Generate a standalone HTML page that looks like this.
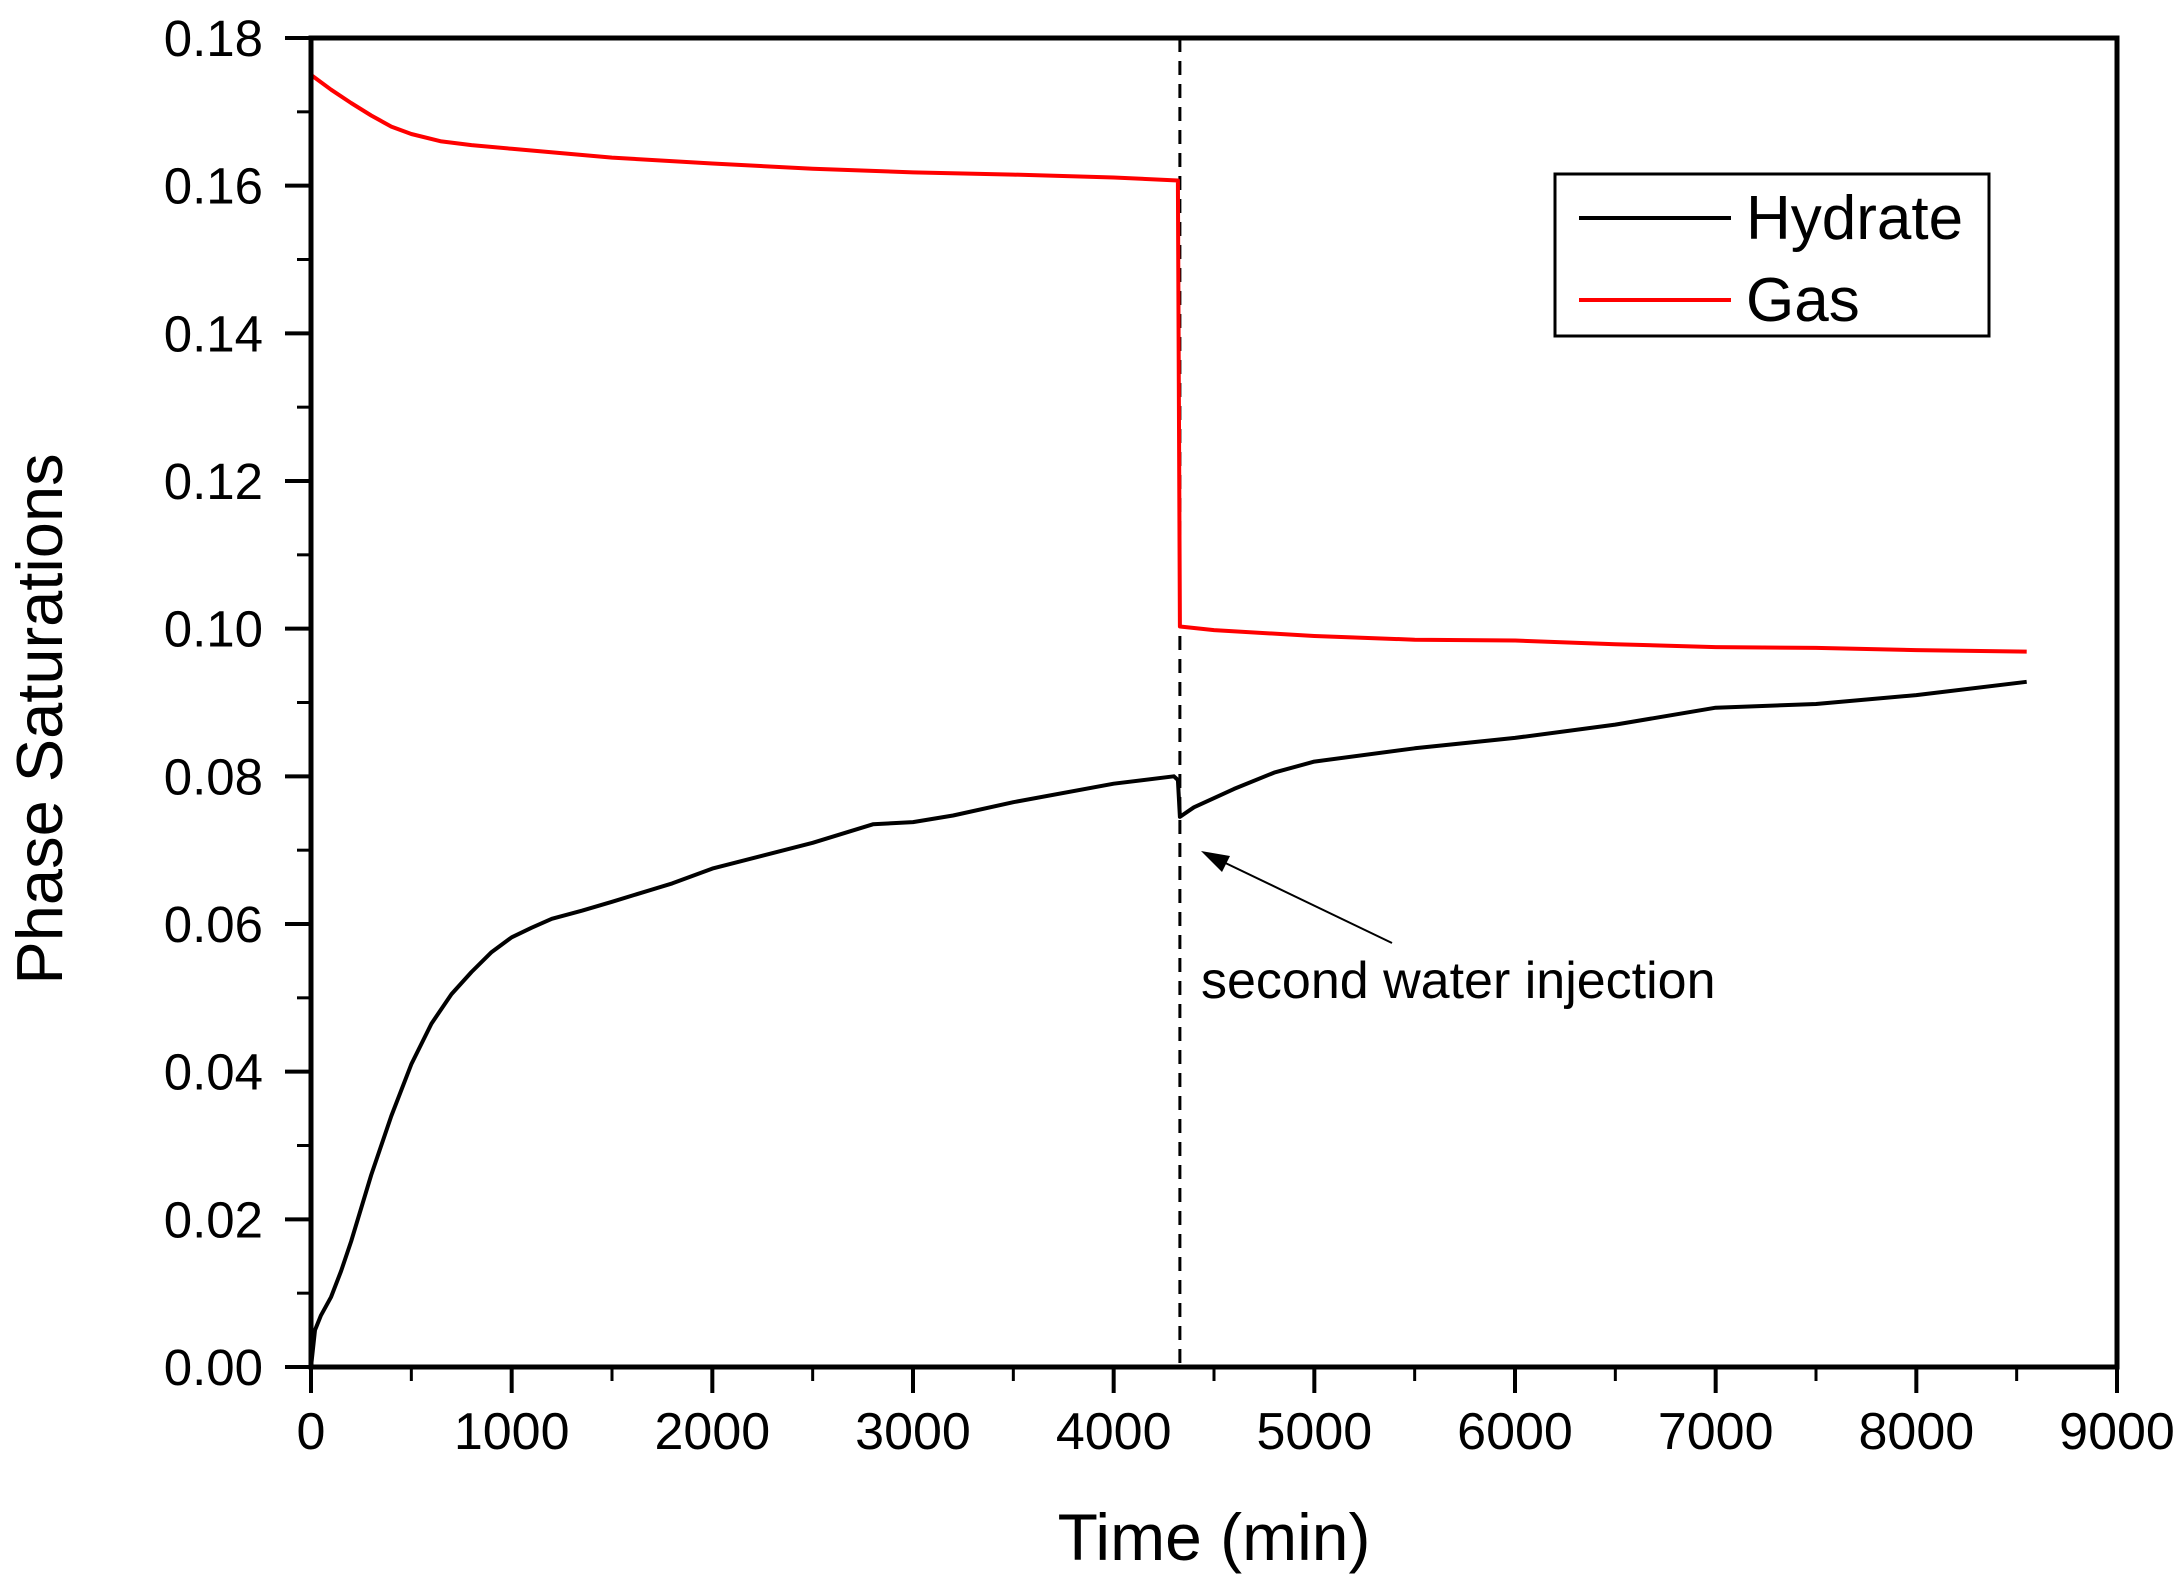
<!DOCTYPE html>
<html><head><meta charset="utf-8"><style>
html,body{margin:0;padding:0;background:#fff;}
svg{display:block;font-family:"Liberation Sans",Arial,sans-serif;}
</style></head><body>
<svg id="chart" width="2183" height="1584" viewBox="0 0 2183 1584" xmlns="http://www.w3.org/2000/svg">
<rect width="2183" height="1584" fill="#fff"/>
<g id="ticks"></g>
<g id="series"></g>
<rect x="311" y="38" width="1806" height="1329" fill="none" stroke="#000" stroke-width="5"/>
<text x="1214" y="1560" font-size="66" text-anchor="middle">Time (min)</text>
<text transform="translate(62,719) rotate(-90)" font-size="65" text-anchor="middle">Phase Saturations</text>
<g>
<rect x="1555" y="174" width="434" height="162" fill="#fff" stroke="#000" stroke-width="3"/>
<line x1="1579" y1="218" x2="1731" y2="218" stroke="#000" stroke-width="4"/>
<text x="1746" y="239" font-size="62">Hydrate</text>
<line x1="1579" y1="300" x2="1731" y2="300" stroke="#f00" stroke-width="4"/>
<text x="1746" y="321" font-size="62">Gas</text>
</g>
<g>
<line x1="1392" y1="943" x2="1215" y2="858" stroke="#000" stroke-width="2"/>
<polygon points="1201,851 1230,856 1222,872" fill="#000"/>
<text x="1201" y="998" font-size="52">second water injection</text>
</g>
</svg>
<script>
const xTicks=[0,1000,2000,3000,4000,5000,6000,7000,8000,9000];
const yTicks=[0,0.02,0.04,0.06,0.08,0.10,0.12,0.14,0.16,0.18];
const yLabels=["0.00","0.02","0.04","0.06","0.08","0.10","0.12","0.14","0.16","0.18"];
const injectionTime=4330;
const gasT=[0,100,200,300,400,500,650,800,1000,1500,2000,2500,3000,3500,4000,4320,4330,4500,5000,5500,6000,6500,7000,7500,8000,8550];
const gasV=[0.175,0.173,0.1712,0.1695,0.168,0.167,0.166,0.1655,0.165,0.1638,0.163,0.1623,0.1618,0.1615,0.1611,0.1607,0.1003,0.0998,0.099,0.0985,0.0984,0.0979,0.0975,0.0974,0.0971,0.0969];
const hydT=[0,20,50,100,150,200,300,400,500,600,700,800,900,1000,1100,1200,1350,1500,1800,2000,2500,2800,3000,3200,3500,4000,4300,4320,4330,4400,4600,4800,5000,5500,6000,6500,7000,7500,8000,8550];
const hydV=[0.0,0.005,0.007,0.0095,0.013,0.017,0.026,0.034,0.041,0.0465,0.0505,0.0535,0.0562,0.0582,0.0595,0.0607,0.0618,0.063,0.0655,0.0675,0.071,0.0735,0.0738,0.0747,0.0765,0.079,0.080,0.0795,0.0745,0.0758,0.0783,0.0805,0.082,0.0838,0.0852,0.087,0.0893,0.0898,0.091,0.0928];
const L=311,R=2117,T=38,B=1367;
const X=v=>L+(v/9000)*(R-L);
const Y=v=>B-(v/0.18)*(B-T);
const NS="http://www.w3.org/2000/svg";
const tg=document.getElementById('ticks');
function mk(tag,attrs,parent){const e=document.createElementNS(NS,tag);for(const k in attrs)e.setAttribute(k,attrs[k]);parent.appendChild(e);return e;}
xTicks.forEach((t,i)=>{
  const ln=mk('line',{x1:X(t),x2:X(t),y1:B,y2:B+26,stroke:'#000','stroke-width':4},tg);
  
  
  if(i<xTicks.length-1){const m=mk('line',{x1:X(t+500),x2:X(t+500),y1:B,y2:B+14,stroke:'#000','stroke-width':3},tg);
  
  }
  const tx=mk('text',{x:X(t),y:B+82,'font-size':52,'text-anchor':'middle'},tg);
  
  
  tx.textContent=String(t);
});
yTicks.forEach((t,i)=>{
  const ln=mk('line',{x1:L-26,x2:L,y1:Y(t),y2:Y(t),stroke:'#000','stroke-width':4},tg);
  
  
  if(i<yTicks.length-1){const m=mk('line',{x1:L-14,x2:L,y1:Y(t+0.01),y2:Y(t+0.01),stroke:'#000','stroke-width':3},tg);
  
  }
  const tx=mk('text',{x:L-48,y:Y(t)+18,'font-size':51,'text-anchor':'end'},tg);
  
  
  tx.textContent=yLabels[i];
});
const sg=document.getElementById('series');
const dl=mk('line',{x1:X(injectionTime),x2:X(injectionTime),y1:T,y2:B,stroke:'#000','stroke-width':3,'stroke-dasharray':'14,9'},sg);


function path(ts,vs){return ts.map((t,i)=>(i?'L':'M')+X(t).toFixed(1)+','+Y(vs[i]).toFixed(1)).join(' ');}
const gp=mk('path',{d:path(gasT,gasV),fill:'none',stroke:'#f00','stroke-width':4,'stroke-linejoin':'round'},sg);


const hp=mk('path',{d:path(hydT,hydV),fill:'none',stroke:'#000','stroke-width':4,'stroke-linejoin':'round'},sg);


</script>
</body></html>
